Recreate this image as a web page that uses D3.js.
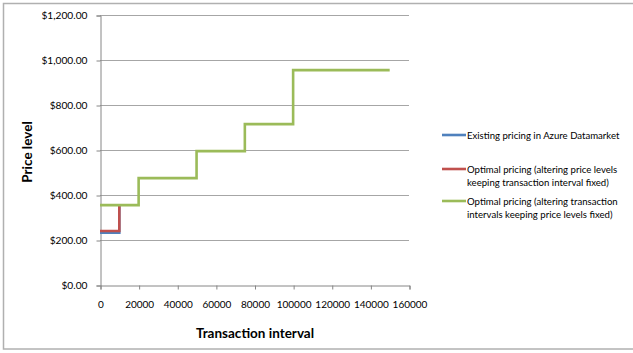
<!DOCTYPE html>
<html>
<head>
<meta charset="utf-8">
<script src="https://cdn.jsdelivr.net/npm/d3@7"></script>
<style>
  html, body { margin: 0; padding: 0; background: #fff; }
  svg { display: block; }
  text { font-family: Lato, "Open Sans", sans-serif; fill: #000; }
</style>
</head>
<body>
<svg id="chart" width="633" height="353"></svg>
<script>
// Step series: [transaction interval, price level]
const existingPricing = [[0, 232], [10000, 232], [10000, 355]];
const optimalPriceLevels = [[0, 240], [10000, 240], [10000, 355]];
const optimalIntervals = [
  [0, 355], [20000, 355], [20000, 475], [50000, 475], [50000, 595],
  [75000, 595], [75000, 715], [100000, 715], [100000, 955], [150000, 955]
];
const seriesNames = [
  "Existing pricing in Azure Datamarket",
  "Optimal pricing (altering price levels|keeping transaction  interval fixed)",
  "Optimal pricing (altering transaction|intervals keeping price levels fixed)"
];
const seriesColors = ["#4F81BD", "#C0504D", "#9BBB59"];
const xTicks = [0, 20000, 40000, 60000, 80000, 100000, 120000, 140000, 160000];
const yTicks = [0, 200, 400, 600, 800, 1000, 1200];

const svg = d3.select("#chart");
const plot = { left: 100, right: 409, top: 15, bottom: 285 };

// chart frame
svg.append("rect")
  .attr("x", 3.5).attr("y", 3.5).attr("width", 640).attr("height", 345.5)
  .attr("fill", "none").attr("stroke", "#b0b0b0").attr("stroke-width", 1.5);

const x = d3.scaleLinear().domain([0, 160000]).range([plot.left, plot.right]);
const y = d3.scaleLinear().domain([0, 1200]).range([plot.bottom, plot.top]);

// horizontal gridlines
svg.append("g").selectAll("line").data(yTicks.filter(d => d > 0)).join("line")
  .attr("x1", plot.left).attr("x2", plot.right)
  .attr("y1", d => Math.round(y(d)) + 0.5).attr("y2", d => Math.round(y(d)) + 0.5)
  .attr("stroke", "#a6a6a6").attr("stroke-width", 1);

// y axis
const yAxis = svg.append("g").attr("transform", `translate(${plot.left + 0.5},0.5)`)
  .call(d3.axisLeft(y).tickValues(yTicks).tickSize(4).tickPadding(9)
    .tickFormat(d => "$" + d3.format(",.2f")(d)));
yAxis.select(".domain").attr("stroke", "#868686");
yAxis.selectAll(".tick line").attr("stroke", "#868686");
yAxis.selectAll(".tick text").attr("font-size", 10.2).attr("fill", "#000")
  .attr("font-family", "Lato, 'Open Sans', sans-serif");

// x axis
const xAxis = svg.append("g").attr("transform", `translate(0.5,${plot.bottom + 0.5})`)
  .call(d3.axisBottom(x).tickValues(xTicks).tickSize(4).tickPadding(11)
    .tickFormat(d3.format("d")));
xAxis.select(".domain").attr("stroke", "#868686");
xAxis.selectAll(".tick line").attr("stroke", "#868686");
xAxis.selectAll(".tick text").attr("font-size", 10).attr("fill", "#000")
  .attr("font-family", "Lato, 'Open Sans', sans-serif");

// series lines
const line = d3.line().x(d => x(d[0])).y(d => y(d[1]));
[existingPricing, optimalPriceLevels, optimalIntervals].forEach((data, i) => {
  svg.append("path").datum(data)
    .attr("d", line)
    .attr("fill", "none")
    .attr("stroke", seriesColors[i])
    .attr("stroke-width", 2.6)
    .attr("stroke-linejoin", "miter")
    .attr("stroke-linecap", "butt");
});

// axis titles
svg.append("text")
  .attr("x", 255).attr("y", 338)
  .attr("text-anchor", "middle")
  .attr("font-size", 13.5).attr("font-weight", "bold")
  .text("Transaction interval");

svg.append("text")
  .attr("transform", "translate(32,152) rotate(-90)")
  .attr("text-anchor", "middle")
  .attr("font-size", 13.5).attr("font-weight", "bold")
  .text("Price level");

// legend
const legendY = [135, 169, 201];
const legend = svg.append("g");
seriesNames.forEach((name, i) => {
  const g = legend.append("g").attr("transform", `translate(442,${legendY[i]})`);
  g.append("line").attr("x1", 0).attr("x2", 24).attr("y1", 0).attr("y2", 0)
    .attr("stroke", seriesColors[i]).attr("stroke-width", 2.6);
  name.split("|").forEach((part, j) => {
    g.append("text")
      .attr("x", 25).attr("y", 3.5 + j * 13)
      .attr("font-size", 9.6)
      .text(part);
  });
});
</script>
</body>
</html>
